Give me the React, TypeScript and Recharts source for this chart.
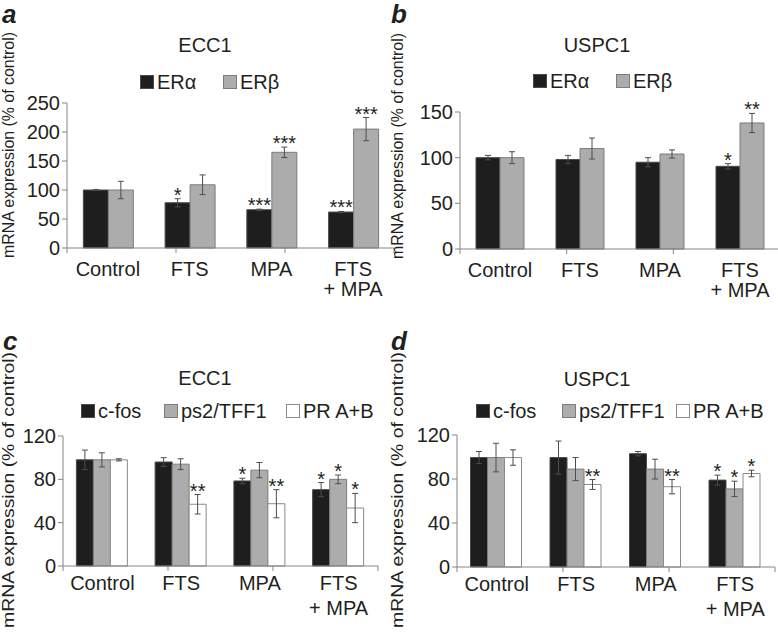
import React from "react";
import { BarChart, Bar, XAxis, YAxis, ErrorBar, LabelList } from "recharts";

const categories = ["Control", "FTS", "MPA", "FTS + MPA"];

// a: ECC1, ER subtypes
const ecc1ERa = [100, 78, 66, 62];
const ecc1ERaErr = [1, 7, 1, 1];
const ecc1ERaSig = ["", "*", "***", "***"];
const ecc1ERb = [100, 109, 165, 205];
const ecc1ERbErr = [15, 17, 9, 20];
const ecc1ERbSig = ["", "", "***", "***"];

// b: USPC1, ER subtypes
const uspc1ERa = [100, 98, 95, 90.5];
const uspc1ERaErr = [2.5, 4.5, 5, 3];
const uspc1ERaSig = ["", "", "", "*"];
const uspc1ERb = [100, 110, 104, 138];
const uspc1ERbErr = [6.5, 11.5, 4.5, 10.5];
const uspc1ERbSig = ["", "", "", "**"];

// c: ECC1, target genes
const ecc1Cfos = [98, 96, 78.5, 70.5];
const ecc1CfosErr = [9, 4, 2.5, 6.5];
const ecc1CfosSig = ["", "", "*", "*"];
const ecc1Ps2 = [98, 94, 88.5, 80];
const ecc1Ps2Err = [6.5, 5, 7, 4];
const ecc1Ps2Sig = ["", "", "", "*"];
const ecc1Pr = [98, 57, 57.5, 53.5];
const ecc1PrErr = [1, 9, 13, 13.5];
const ecc1PrSig = ["", "**", "**", "*"];

// d: USPC1, target genes
const uspc1Cfos = [99.5, 99.5, 103, 79];
const uspc1CfosErr = [5.5, 15, 2, 4.5];
const uspc1CfosSig = ["", "", "", "*"];
const uspc1Ps2 = [99.5, 89, 89, 71];
const uspc1Ps2Err = [13, 10.5, 9, 7];
const uspc1Ps2Sig = ["", "", "", "*"];
const uspc1Pr = [99.5, 75, 73, 85];
const uspc1PrErr = [7, 4.5, 6.5, 3];
const uspc1PrSig = ["", "**", "**", "*"];

const ticksA = [0, 50, 100, 150, 200, 250];
const ticksB = [0, 50, 100, 150];
const ticksCD = [0, 40, 80, 120];
const edgeTicks = [0, 1, 2, 3, 4];

const ink = "#231f20";
const axisColor = "#858585";
const font = '"Liberation Sans", Arial, Helvetica, sans-serif';

const BLACK = { fill: "#1e1e1e", stroke: "#4a4a4a" };
const GRAY = { fill: "#acacac", stroke: "#7c7c7c" };
const WHITE = { fill: "#ffffff", stroke: "#8a8a8a" };

type Series = {
  key: string;
  values: number[];
  errs: number[];
  sig: string[];
  fill: string;
  stroke: string;
};

function buildRows(series: Series[]) {
  return categories.map((name, i) => {
    const row: Record<string, any> = { name };
    series.forEach((s) => {
      row[s.key] = s.values[i];
      row[s.key + "Err"] = s.errs[i];
    });
    return row;
  });
}

const starLabel = (s: Series) => (props: any) => {
  const i = props.index;
  const mark = s.sig[i];
  if (!mark) return null;
  const vb = props.viewBox || {};
  const x = props.x ?? vb.x;
  const y = props.y ?? vb.y;
  const w = props.width ?? vb.width;
  const h = props.height ?? vb.height;
  const top = Math.min(y, y + h);
  const ppu = Math.abs(h) / s.values[i];
  const errTop = top - s.errs[i] * ppu;
  return (
    <text x={x + w / 2} y={errTop + 3} textAnchor="middle" fontSize={20} fill={ink}>
      {mark}
    </text>
  );
};

function CatTick({ x, y, payload, first, second }: any) {
  const parts = String(payload.value).split(" + ");
  return (
    <text textAnchor="middle" fontSize={20} fill={ink}>
      <tspan x={x} y={y + first}>{parts[0]}</tspan>
      {parts[1] && (
        <tspan x={x} y={y + first + second}>
          {"+ " + parts[1]}
        </tspan>
      )}
    </text>
  );
}

type PanelProps = {
  left: number;
  top: number;
  width: number;
  height: number;
  margin: { top: number; right: number; bottom: number; left: number };
  axisH: number;
  max: number;
  ticks: number[];
  series: Series[];
  gap: string;
  first: number;
  second: number;
};

function Panel({ left, top, width, height, margin, axisH, max, ticks, series, gap, first, second }: PanelProps) {
  const rows = buildRows(series);
  return (
    <div style={{ position: "absolute", left, top }}>
      <BarChart width={width} height={height} data={rows} margin={margin} barCategoryGap={gap} barGap={0}>
        <XAxis
          xAxisId="bCat"
          dataKey="name"
          height={axisH - 6}
          axisLine={false}
          tickLine={false}
          tickSize={0}
          tickMargin={0}
          interval={0}
          tick={<CatTick first={first - 6} second={second} />}
        />
        <XAxis
          xAxisId="aEdge"
          type="number"
          domain={[0, categories.length]}
          ticks={edgeTicks}
          interval={0}
          height={6}
          tickSize={5}
          tickFormatter={() => ""}
          stroke={axisColor}
        />
        <YAxis
          width={60}
          domain={[0, max]}
          ticks={ticks}
          interval={0}
          tickSize={5}
          tickMargin={2}
          stroke={axisColor}
          tick={{ fill: ink, fontSize: 20 }}
        />
        {series.map((s) => (
          <Bar
            key={s.key}
            xAxisId="bCat"
            dataKey={s.key}
            fill={s.fill}
            stroke={s.stroke}
            strokeWidth={1}
            isAnimationActive={false}
          >
            <ErrorBar dataKey={s.key + "Err"} direction="y" width={3} stroke="#4d4d4d" strokeWidth={1} />
            <LabelList dataKey={s.key} content={starLabel(s)} />
          </Bar>
        ))}
      </BarChart>
    </div>
  );
}

function LegendItems({ items, y }: { items: { x: number; label: string; fill: string; stroke: string }[]; y: number }) {
  return (
    <>
      {items.map((it) => (
        <div
          key={it.label}
          style={{ position: "absolute", left: it.x, top: y - 7, display: "flex", alignItems: "center", height: 14 }}
        >
          <div
            style={{
              width: 14,
              height: 14,
              boxSizing: "border-box",
              background: it.fill,
              border: `1px solid ${it.stroke}`,
            }}
          />
          <span style={{ marginLeft: 3, fontSize: 20, lineHeight: "14px", color: ink, whiteSpace: "nowrap" }}>
            {it.label}
          </span>
        </div>
      ))}
    </>
  );
}

export default function App() {
  const seriesA: Series[] = [
    { key: "era", values: ecc1ERa, errs: ecc1ERaErr, sig: ecc1ERaSig, ...BLACK },
    { key: "erb", values: ecc1ERb, errs: ecc1ERbErr, sig: ecc1ERbSig, ...GRAY },
  ];
  const seriesB: Series[] = [
    { key: "era", values: uspc1ERa, errs: uspc1ERaErr, sig: uspc1ERaSig, ...BLACK },
    { key: "erb", values: uspc1ERb, errs: uspc1ERbErr, sig: uspc1ERbSig, ...GRAY },
  ];
  const seriesC: Series[] = [
    { key: "cfos", values: ecc1Cfos, errs: ecc1CfosErr, sig: ecc1CfosSig, ...BLACK },
    { key: "ps2", values: ecc1Ps2, errs: ecc1Ps2Err, sig: ecc1Ps2Sig, ...GRAY },
    { key: "pr", values: ecc1Pr, errs: ecc1PrErr, sig: ecc1PrSig, ...WHITE },
  ];
  const seriesD: Series[] = [
    { key: "cfos", values: uspc1Cfos, errs: uspc1CfosErr, sig: uspc1CfosSig, ...BLACK },
    { key: "ps2", values: uspc1Ps2, errs: uspc1Ps2Err, sig: uspc1Ps2Sig, ...GRAY },
    { key: "pr", values: uspc1Pr, errs: uspc1PrErr, sig: uspc1PrSig, ...WHITE },
  ];

  return (
    <div
      style={{
        position: "fixed",
        left: 0,
        top: 0,
        width: 778,
        height: 634,
        overflow: "hidden",
        background: "#fff",
        fontFamily: font,
        color: ink,
      }}
    >
      <Panel left={0} top={0} width={400} height={310}
        margin={{ top: 103, right: 6, bottom: 0, left: 7 }} axisH={62}
        max={250} ticks={ticksA} series={seriesA} gap="20%" first={28} second={20} />
      <Panel left={389} top={0} width={392} height={310}
        margin={{ top: 112, right: 1, bottom: 0, left: 11 }} axisH={61}
        max={150} ticks={ticksB} series={seriesB} gap="20%" first={28} second={20} />
      <Panel left={0} top={300} width={400} height={334}
        margin={{ top: 136, right: 22, bottom: 0, left: 3 }} axisH={68}
        max={120} ticks={ticksCD} series={seriesC} gap="17%" first={24} second={25} />
      <Panel left={389} top={300} width={392} height={334}
        margin={{ top: 135, right: 6, bottom: 0, left: 8 }} axisH={67}
        max={120} ticks={ticksCD} series={seriesD} gap="17%" first={24} second={25} />

      <LegendItems y={82} items={[
        { x: 140, label: "ERα", ...BLACK },
        { x: 223, label: "ERβ", ...GRAY },
      ]} />
      <LegendItems y={81} items={[
        { x: 533, label: "ERα", ...BLACK },
        { x: 616, label: "ERβ", ...GRAY },
      ]} />
      <LegendItems y={411} items={[
        { x: 81, label: "c-fos", ...BLACK },
        { x: 164, label: "ps2/TFF1", ...GRAY },
        { x: 286, label: "PR A+B", ...WHITE },
      ]} />
      <LegendItems y={411} items={[
        { x: 476, label: "c-fos", ...BLACK },
        { x: 562, label: "ps2/TFF1", ...GRAY },
        { x: 676, label: "PR A+B", ...WHITE },
      ]} />

      <svg width={778} height={634} style={{ position: "absolute", left: 0, top: 0, pointerEvents: "none" }}>
        <g fontSize={26} fontWeight="bold" fontStyle="italic" fill={ink}>
          <text x={2} y={23}>a</text>
          <text x={391} y={23}>b</text>
          <text x={3} y={350}>c</text>
          <text x={391} y={350}>d</text>
        </g>
        <g fontSize={20} fill={ink} textAnchor="middle">
          <text x={205} y={52}>ECC1</text>
          <text x={597} y={52}>USPC1</text>
          <text x={205} y={385}>ECC1</text>
          <text x={597} y={386}>USPC1</text>
        </g>
        <g fontSize={16} fill={ink} textAnchor="middle">
          <text transform="translate(14 145) rotate(-90)" textLength={226} lengthAdjust="spacingAndGlyphs">
            mRNA expression (% of control)
          </text>
          <text transform="translate(403 146) rotate(-90)" textLength={226} lengthAdjust="spacingAndGlyphs">
            mRNA expression (% of control)
          </text>
          <text transform="translate(14 490) rotate(-90)" textLength={276} lengthAdjust="spacingAndGlyphs">
            mRNA expression (% of control)
          </text>
          <text transform="translate(403 490) rotate(-90)" textLength={276} lengthAdjust="spacingAndGlyphs">
            mRNA expression (% of control)
          </text>
        </g>
      </svg>
    </div>
  );
}
